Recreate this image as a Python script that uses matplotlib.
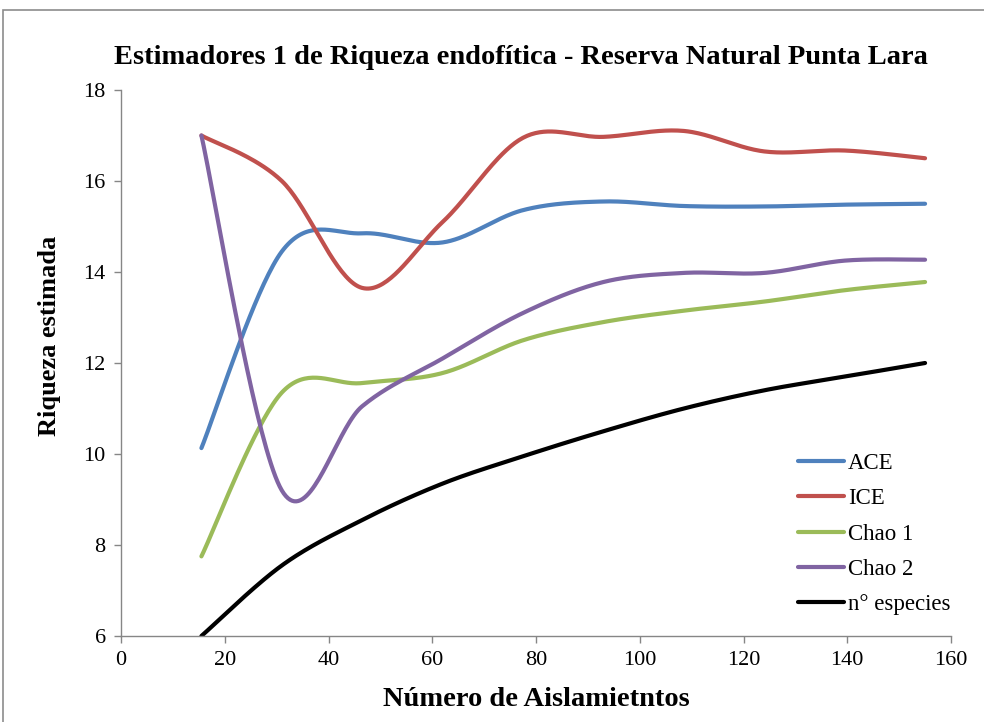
import matplotlib
matplotlib.use('Agg')
import matplotlib.pyplot as plt
import numpy as np

# data (10 sampling points)
n_aisl = [15.5, 31, 46.5, 62, 77.5, 93, 108.5, 124, 139.5, 155]
ace = [10.13, 14.45, 14.85, 14.65, 15.36, 15.55, 15.45, 15.44, 15.48, 15.5]
ice = [17.0, 16.0, 13.65, 15.1, 16.95, 16.97, 17.1, 16.65, 16.67, 16.5]
chao1 = [7.75, 11.35, 11.56, 11.78, 12.5, 12.9, 13.15, 13.35, 13.6, 13.78]
chao2 = [17.0, 9.2, 11.05, 12.1, 13.1, 13.78, 13.98, 13.98, 14.25, 14.27]
n_esp = [6.0, 7.55, 8.55, 9.35, 9.95, 10.5, 11.0, 11.4, 11.7, 12.0]

labels = ['ACE', 'ICE', 'Chao 1', 'Chao 2', 'n\u00b0 especies']
colors = ['#4F81BD', '#C0504D', '#9BBB59', '#8064A2', '#000000']
title = 'Estimadores 1 de Riqueza endof\u00edtica - Reserva Natural Punta Lara'


def smooth(x, y, n=40):
    # excel-like smoothed line: catmull-rom style bezier segments
    x = np.asarray(x, float)
    y = np.asarray(y, float)
    px = np.concatenate([[x[0]], x, [x[-1]]])
    py = np.concatenate([[y[0]], y, [y[-1]]])
    xs, ys = [], []
    t = np.linspace(0, 1, n)
    for i in range(1, len(px) - 2):
        p0 = np.array([px[i], py[i]])
        p3 = np.array([px[i + 1], py[i + 1]])
        c1 = p0 + (np.array([px[i + 1], py[i + 1]]) - np.array([px[i - 1], py[i - 1]])) / 6.0
        c2 = p3 - (np.array([px[i + 2], py[i + 2]]) - np.array([px[i], py[i]])) / 6.0
        b = (((1 - t) ** 3)[:, None] * p0 + (3 * (1 - t) ** 2 * t)[:, None] * c1
             + (3 * (1 - t) * t ** 2)[:, None] * c2 + (t ** 3)[:, None] * p3)
        xs.extend(b[:, 0])
        ys.extend(b[:, 1])
    return np.array(xs), np.array(ys)


plt.rcParams['font.family'] = ['Liberation Serif', 'DejaVu Serif']

fig = plt.figure(figsize=(9.84, 7.22), dpi=100)
ax = fig.add_axes([121 / 984., 86 / 722., 830 / 984., 546 / 722.])

# chart area border (only top and left visible in the crop)
fig.patches.append(plt.Rectangle((3 / 984., -0.05), 1.1, (712 / 722.) + 0.05,
                                 transform=fig.transFigure, fill=False,
                                 edgecolor='#8c8c8c', linewidth=1.2))

for yv, lab, col in zip([ace, ice, chao1, chao2, n_esp], labels, colors):
    sx, sy = smooth(n_aisl, yv)
    ax.plot(sx, sy, color=col, lw=3.0, label=lab, solid_capstyle='round')

ax.set_xlim(0, 160)
ax.set_ylim(6, 18)
ax.set_xticks(np.arange(0, 161, 20))
ax.set_yticks(np.arange(6, 19, 2))
for s in ['top', 'right']:
    ax.spines[s].set_visible(False)
for s in ['left', 'bottom']:
    ax.spines[s].set_color('#868686')
    ax.spines[s].set_linewidth(1.0)
ax.tick_params(colors='#868686', length=5, width=1.0, labelsize=16, pad=6)
for lbl in ax.get_xticklabels() + ax.get_yticklabels():
    lbl.set_color('black')

ax.set_xlabel('N\u00famero de Aislamietntos', fontsize=20.5, fontweight='bold')
ax.xaxis.set_label_coords(0.5, -0.093)
ax.set_ylabel('Riqueza estimada', fontsize=19, fontweight='bold')
ax.yaxis.set_label_coords(-0.072, 0.5 + 27 / 546.)
fig.text(521 / 984., 1 - 57 / 722., title, fontsize=20.5, fontweight='bold',
         ha='center', va='center')

ax.legend(loc='lower right', bbox_to_anchor=(1.019, 0.009), frameon=False,
          fontsize=16.5, handlelength=2.0, handletextpad=0.2, labelspacing=0.62,
          borderaxespad=0.3)

fig.savefig('out.png', dpi=100)
